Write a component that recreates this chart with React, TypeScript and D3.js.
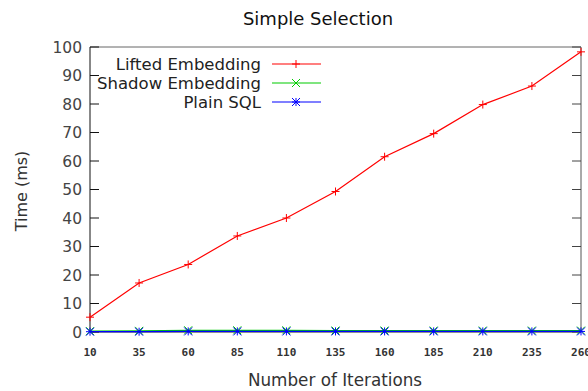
import React from "react";
import * as d3 from "d3";

const iterations = [10, 35, 60, 85, 110, 135, 160, 185, 210, 235, 260];
const lifted = [5.2, 17.2, 23.7, 33.7, 40.0, 49.3, 61.5, 69.6, 79.8, 86.3, 98.3];
const shadow = [0.3, 0.4, 0.6, 0.6, 0.6, 0.5, 0.5, 0.5, 0.5, 0.5, 0.5];
const plain = [0.1, 0.1, 0.2, 0.2, 0.2, 0.2, 0.2, 0.2, 0.2, 0.2, 0.2];
const yTicks = [0, 10, 20, 30, 40, 50, 60, 70, 80, 90, 100];
const seriesNames = ["Lifted Embedding", "Shadow Embedding", "Plain SQL"];
const seriesColors = ["#ff0000", "#00cc00", "#0000ff"];

const W = 588, H = 391;
const m = { left: 90, right: 581, top: 47, bottom: 332 };

function Marker({ kind, x, y, color }: { kind: number; x: number; y: number; color: string }) {
  const s = 4;
  if (kind === 0)
    return <path d={`M${x - s},${y}H${x + s}M${x},${y - s}V${y + s}`} stroke={color} strokeWidth={1} />;
  if (kind === 1)
    return <path d={`M${x - s},${y - s}L${x + s},${y + s}M${x - s},${y + s}L${x + s},${y - s}`} stroke={color} strokeWidth={1} />;
  return (
    <path
      d={`M${x - s},${y}H${x + s}M${x},${y - s}V${y + s}M${x - s},${y - s}L${x + s},${y + s}M${x - s},${y + s}L${x + s},${y - s}`}
      stroke={color}
      strokeWidth={1}
    />
  );
}

export default function App() {
  const x = d3.scaleLinear().domain([10, 260]).range([m.left, m.right]);
  const y = d3.scaleLinear().domain([0, 100]).range([m.bottom, m.top]);
  const data = [lifted, shadow, plain];
  const line = (vals: number[]) =>
    d3.line<number>().x((_, i) => x(iterations[i])).y((v) => y(v))(vals) || "";
  const font = "'DejaVu Sans', sans-serif";
  return (
    <svg width={W} height={H} style={{ position: "absolute", left: 0, top: 0, background: "#fff" }} fontFamily={font}>
      <text x={318} y={25} textAnchor="middle" fontSize={18} fill="#111">Simple Selection</text>
      {/* frame */}
      <line x1={m.left} x2={m.right} y1={m.top} y2={m.top} stroke="#666" />
      <line x1={m.right} x2={m.right} y1={m.top} y2={m.bottom} stroke="#555" />
      <line x1={m.left} x2={m.right} y1={m.bottom} y2={m.bottom} stroke="#222" />
      <line x1={m.left} x2={m.left} y1={m.top} y2={m.bottom} stroke="#111" />
      {yTicks.map((t) => (
        <g key={t}>
          <line x1={m.left} x2={m.left + 9} y1={y(t)} y2={y(t)} stroke="#111" />
          <line x1={m.right - 9} x2={m.right} y1={y(t)} y2={y(t)} stroke="#444" />
          <text x={m.left - 8} y={y(t) + 5.5} textAnchor="end" fontSize={15.5} fill="#444">{t}</text>
        </g>
      ))}
      {iterations.map((t) => (
        <text key={t} x={x(t)} y={356} textAnchor="middle" fontSize={11} fill="#333" fontWeight="bold" fontFamily="'DejaVu Sans Mono', monospace">{t}</text>
      ))}
      <text x={335} y={386} textAnchor="middle" fontSize={16.8} fill="#333">Number of Iterations</text>
      <text transform={`translate(27,191) rotate(-90)`} textAnchor="middle" fontSize={16} fill="#333">Time (ms)</text>
      {/* series */}
      {data.map((vals, k) => (
        <g key={k}>
          <path d={line(vals)} fill="none" stroke={seriesColors[k]} strokeWidth={1.2} />
          {vals.map((v, i) => (
            <Marker key={i} kind={k} x={x(iterations[i])} y={y(v)} color={seriesColors[k]} />
          ))}
        </g>
      ))}
      {/* legend */}
      {seriesNames.map((n, k) => {
        const ly = 64 + k * 19;
        return (
          <g key={n}>
            <text x={261} y={ly + 6} textAnchor="end" fontSize={16.5} fill="#222">{n}</text>
            <line x1={272} x2={321} y1={ly} y2={ly} stroke={seriesColors[k]} strokeWidth={1.2} />
            <Marker kind={k} x={296} y={ly} color={seriesColors[k]} />
          </g>
        );
      })}
    </svg>
  );
}
